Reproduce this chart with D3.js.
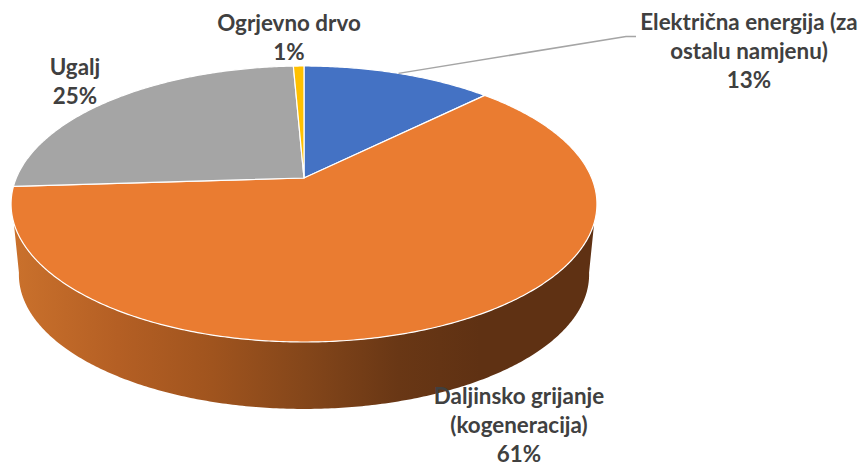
<!DOCTYPE html>
<html><head><meta charset="utf-8">
<script src="https://cdn.jsdelivr.net/npm/d3@7"></script>
<style>html,body{margin:0;padding:0;background:#fff}svg{display:block}</style>
</head><body><svg id="c" width="860" height="464"></svg>
<script>
const categories = ["Električna energija (za ostalu namjenu)", "Daljinsko grijanje (kogeneracija)", "Ugalj", "Ogrjevno drvo"];
const values = [12.6, 61.4, 25.3, 0.7];
const percentLabels = ["13%", "61%", "25%", "1%"];
const colors = ["#4472c4", "#ea7c31", "#a5a5a5", "#ffc000"];
const labelLines = [["Električna energija (za", "ostalu namjenu)", "13%"], ["Daljinsko grijanje", "(kogeneracija)", "61%"], ["Ugalj", "25%"], ["Ogrjevno drvo", "1%"]];
const labelAnchors = [[749, 30], [519, 404], [75, 75], [289, 31]];

const svg = d3.select("#c");
const defs = svg.append("defs");

// Perspective projection of the pie disc onto the screen
const persp = 0.1884;
const topRim = {cx: 304, cy: 178, kx: 287.7, ky: 133.1};
const lowRim = {cx: 304, cy: 249.4, kx: 280, ky: 129.5};
const project = (rim, a) => {
  const u = Math.sin(a), v = -Math.cos(a), d = 1 - persp * v;
  return [rim.cx + rim.kx * u / d, rim.cy + rim.ky * v / d];
};
const sampled = (rim, a0, a1) => {
  const n = Math.max(2, Math.ceil(Math.abs(a1 - a0) / 0.01));
  return d3.range(n + 1).map(i => project(rim, a0 + (a1 - a0) * i / n));
};
const line = d3.line();
const deg = d3.scaleLinear().domain([0, 360]).range([0, 2 * Math.PI]);

const arcs = d3.pie().sort(null).value(d => d)(values);

// Side wall of the big slice
const grad = defs.append("linearGradient").attr("id", "side")
  .attr("gradientUnits", "userSpaceOnUse").attr("x1", 13).attr("x2", 597).attr("y1", 0).attr("y2", 0);
[[0, "#ca712c"], [0.18, "#b45f24"], [0.34, "#a0541e"], [0.5, "#84461a"], [0.66, "#693715"], [0.8, "#5f3113"], [1, "#5f3113"]]
  .forEach(s => grad.append("stop").attr("offset", s[0]).attr("stop-color", s[1]));

const wall = sampled(topRim, deg(108.5), deg(251.5)).concat(sampled(lowRim, deg(260), deg(100)));
svg.append("path").attr("d", line(wall) + "Z").attr("fill", "url(#side)");

// Top faces
svg.append("g").selectAll("path").data(arcs).join("path")
  .attr("d", d => line([[topRim.cx, topRim.cy]].concat(sampled(topRim, d.startAngle, d.endAngle))) + "Z")
  .attr("fill", (d, i) => colors[i])
  .attr("stroke", "#ffffff").attr("stroke-width", 1.2).attr("stroke-linejoin", "round");

// Leader line of the first label, from the middle of its slice
const s = project(topRim, (arcs[0].startAngle + arcs[0].endAngle) / 2);
svg.append("path").attr("d", line([s, [626, 36.5], [636, 36.5]]))
  .attr("fill", "none").attr("stroke", "#a5a5a5").attr("stroke-width", 1.5);

// Labels
const lab = svg.append("g").attr("font-family", "Lato, 'Open Sans', sans-serif")
  .attr("font-weight", 700).attr("font-size", 22.4).attr("fill", "#404040").attr("text-anchor", "middle");
labelLines.forEach((ls, i) => {
  const t = lab.append("text");
  ls.forEach((l, j) => t.append("tspan").attr("x", labelAnchors[i][0]).attr("y", labelAnchors[i][1] + j * 29).text(l));
});
</script></body></html>
